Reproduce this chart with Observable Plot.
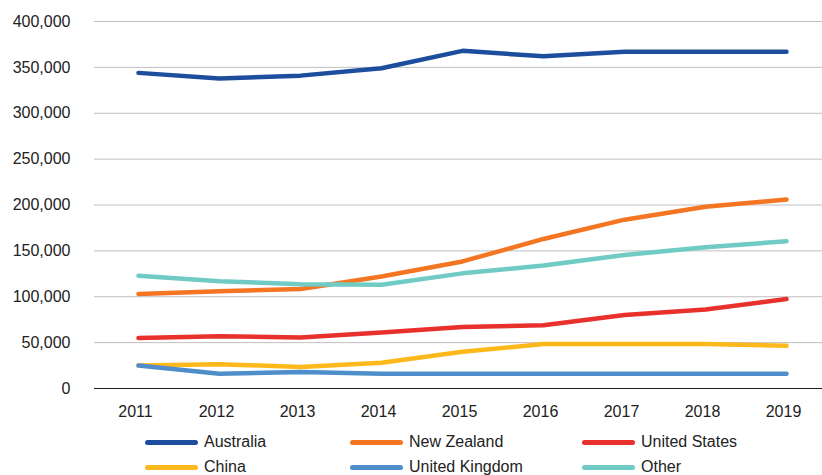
<!DOCTYPE html>
<html>
<head>
<meta charset="utf-8">
<script src="https://cdn.jsdelivr.net/npm/d3@7"></script>
<script src="https://cdn.jsdelivr.net/npm/@observablehq/plot@0.6"></script>
<style>
  html, body { margin: 0; padding: 0; background: #fff; overflow: hidden; }
  #wrap { position: relative; width: 822px; height: 475px; font-family: "Liberation Sans", Arial, sans-serif; }
  #legend { position: absolute; left: 0; top: 425px; width: 822px; height: 60px; }
  .item { position: absolute; display: flex; align-items: center; font-size: 16px; color: #222; height: 20px; }
  .sw { width: 53px; height: 5px; border-radius: 3px; margin-right: 6px; }
</style>
</head>
<body>
<div id="wrap"><div id="chart"></div><div id="legend"></div></div>
<script>
const years = [2011, 2012, 2013, 2014, 2015, 2016, 2017, 2018, 2019];
const seriesNames = ["Australia", "New Zealand", "United States", "China", "United Kingdom", "Other"];
const australia     = [344000, 338000, 341000, 349000, 368000, 362000, 367000, 367000, 367000];
const newZealand    = [103000, 106000, 108500, 122000, 138500, 163000, 184000, 198000, 206000];
const unitedStates  = [55000, 57000, 55500, 61000, 67000, 69000, 80000, 86000, 97500];
const china         = [25000, 26500, 23500, 28000, 40000, 48500, 48500, 48500, 46500];
const unitedKingdom = [25000, 16000, 18000, 16000, 16000, 16000, 16000, 16000, 16000];
const other         = [123000, 117000, 113500, 113000, 125500, 134000, 145500, 154000, 160500];
const yTicks = [0, 50000, 100000, 150000, 200000, 250000, 300000, 350000, 400000];
const colors = ["#1d4e9e", "#f47622", "#e8302d", "#fdb81c", "#4f8dcb", "#70cbc4"];

const allValues = [australia, newZealand, unitedStates, china, unitedKingdom, other];
const data = [];
seriesNames.forEach((name, i) => {
  years.forEach((y, j) => data.push({series: name, year: y, value: allValues[i][j]}));
});

const chart = Plot.plot({
  width: 822,
  height: 425,
  marginLeft: 94,
  marginRight: 0,
  marginTop: 21,
  marginBottom: 37,
  style: {fontFamily: "Liberation Sans, Arial, sans-serif", fontSize: "16px", color: "#222", background: "#fff"},
  x: {type: "point", domain: years, range: [134, 789], padding: 0},
  y: {domain: [0, 400000], ticks: yTicks},
  color: {domain: seriesNames, range: colors},
  marks: [
    Plot.ruleY(yTicks.filter(d => d > 0), {stroke: "#bfbfbf", strokeWidth: 1}),
    Plot.ruleY([0], {stroke: "#1a1a1a", strokeWidth: 1.2}),
    Plot.axisY({ticks: yTicks, tickSize: 0, tickPadding: 24, tickFormat: d3.format(","), label: null, fill: "#222"}),
    Plot.axisX({tickSize: 0, tickPadding: 17, tickFormat: d => String(d), label: null, fill: "#222", dx: -3}),
    Plot.line(data, {x: "year", y: "value", z: "series", stroke: "series", strokeWidth: 4.5, strokeLinecap: "round", strokeLinejoin: "round"})
  ]
});
document.getElementById("chart").appendChild(chart);

const legend = document.getElementById("legend");
const colX = [145, 350, 582];
const rowY = [7, 32];
seriesNames.forEach((name, i) => {
  const it = document.createElement("div");
  it.className = "item";
  it.style.left = colX[i % 3] + "px";
  it.style.top = rowY[Math.floor(i / 3)] + "px";
  const sw = document.createElement("div");
  sw.className = "sw";
  sw.style.background = colors[i];
  const tx = document.createElement("span");
  tx.textContent = name;
  it.appendChild(sw);
  it.appendChild(tx);
  legend.appendChild(it);
});
</script>
</body>
</html>
